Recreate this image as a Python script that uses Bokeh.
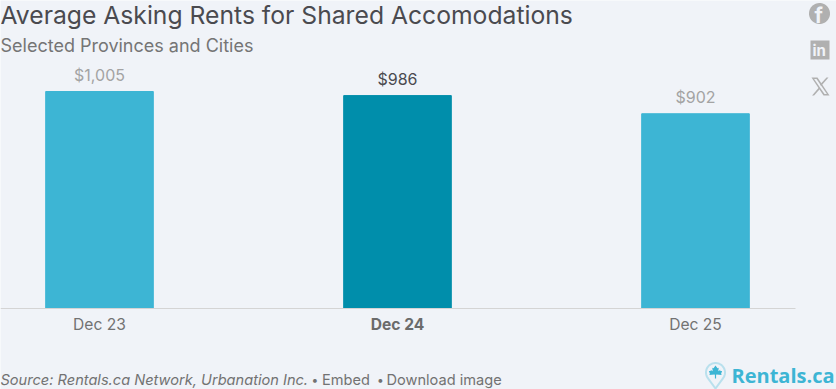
import numpy as np
from bokeh.plotting import figure
from bokeh.embed import file_html
from bokeh.resources import INLINE
from bokeh.models import Range1d, FixedTicker, Label, PolyAnnotation, ColumnDataSource
from bokeh.core.properties import value

months = ["Dec 23", "Dec 24", "Dec 25"]
rents = [1005, 986, 902]
rent_labels = ["$1,005", "$986", "$902"]
bar_colors = ["#3db5d4", "#008eab", "#3db5d4"]
label_colors = ["#a3a3a3", "#4a4a4f", "#a3a3a3"]
highlight = 1

BG = "#f0f3f8"
FONT = "Inter"
W, H = 836, 389
BASE = 308
PX_X = 298
PX_Y = 217 / 1005
xpos = list(range(len(months)))

p = figure(width=W, height=H, output_backend="svg", toolbar_location=None,
           x_range=Range1d(-99 / PX_X, (W - 99) / PX_X), y_range=Range1d((BASE - H) / PX_Y, BASE / PX_Y),
           min_border_left=0, min_border_right=0, min_border_top=0, min_border_bottom=0,
           background_fill_color=BG, border_fill_color=BG, outline_line_color=None)
p.grid.visible = False
p.yaxis.visible = False

src = ColumnDataSource(dict(x=xpos, top=rents, color=bar_colors, lab=rent_labels, lc=label_colors))
p.vbar(x="x", top="top", width=107.6 / PX_X, color="color", source=src)
p.text(x="x", y="top", text="lab", text_color="lc", source=src, y_offset=-7,
       text_align="center", text_baseline="bottom", text_font=value(FONT), text_font_size="16px")

ax = p.xaxis[0]
ax.fixed_location = 0
ax.bounds = (-99 / PX_X, (795 - 99) / PX_X)
ax.ticker = FixedTicker(ticks=xpos)
ax.major_label_overrides = {i: ("" if i == highlight else m) for i, m in enumerate(months)}
ax.major_tick_line_color = None
ax.minor_tick_line_color = None
ax.axis_line_color = "#d4d4d4"
ax.axis_line_width = 1
ax.major_label_text_font = FONT
ax.major_label_text_font_size = "15.6px"
ax.major_label_text_color = "#727272"
ax.major_label_standoff = 0

p.text(x=[highlight], y=[0], text=[months[highlight]], y_offset=16, text_align="center",
       text_baseline="middle", text_color="#6b6b6b", text_font=value(FONT), text_font_size="15.6px",
       text_font_style="bold", level="overlay")


def label(x, y, text, size, color, style="normal", font=FONT):
    p.add_layout(Label(x=x, y=y, x_units="canvas", y_units="canvas", text=text, text_font=font,
                       text_font_size=size, text_color=color, text_font_style=style, level="overlay",
                       text_baseline="middle", text_align="left"))


def poly(xs, ys, fill, line=None, lw=1):
    p.add_layout(PolyAnnotation(xs=list(xs), ys=list(ys), xs_units="canvas", ys_units="canvas", fill_color=fill,
                                fill_alpha=1, line_color=line, line_width=lw, level="overlay"))


label(0, 14, "Average Asking Rents for Shared Accomodations", "24.7px", "#4a4a4f")
label(0, 45, "Selected Provinces and Cities", "18px", "#757575")
label(0, 379, "Source: Rentals.ca Network, Urbanation Inc.", "14.6px", "#727272", "italic")
label(311, 379, "\u2022", "12px", "#727272")
label(321.5, 379, "Embed", "14.6px", "#727272")
label(376.5, 379, "\u2022", "12px", "#727272")
label(386, 379, "Download image", "14.6px", "#727272")

GREY = "#b0b0b0"
t = np.linspace(0, 2 * np.pi, 48)
poly(819 + 10.5 * np.cos(t), 13 + 10.5 * np.sin(t), GREY)
label(814, 15, "f", "21px", BG, "bold")
poly([810, 829, 829, 810], [40, 40, 59, 59], GREY)
label(812, 50, "in", "15px", BG, "bold")
# X logo: outlined thick diagonal and the thin opposite strokes
poly([811, 817, 829, 823], [77, 77, 95, 95], GREY)
poly([813.6, 816, 826.4, 824], [78.5, 78.5, 93.5, 93.5], BG)
poly([826, 828, 820.6, 819.6], [77, 77, 85.4, 84], GREY)
poly([811.6, 813.6, 819.4, 818.4], [95, 95, 88.4, 87], GREY)

TEAL = "#3db5d4"
a = np.linspace(np.radians(-40), np.radians(220), 40)
poly(list(715 + 9.5 * np.cos(a)) + [715], list(372 - 9.5 * np.sin(a)) + [388], BG, TEAL, 2)
leaf_x = [0, 2.0, 3.2, 2.8, 5.0, 4.6, 6.6, 5.6, 6.2, 1.0, 0.7, -0.7, -1.0, -6.2, -5.6, -6.6, -4.6, -5.0, -2.8, -3.2, -2.0]
leaf_y = [-7, -4.2, -4.8, -1.2, -2.8, -1.4, -1.6, 1.2, 2.4, 2.0, 2.2, 2.2, 2.0, 2.4, 1.2, -1.6, -1.4, -2.8, -1.2, -4.8, -4.2]
poly([715 + v for v in leaf_x], [372 + v for v in leaf_y], TEAL)
poly([714.4, 715.6, 715.6, 714.4], [373, 373, 378, 378], TEAL)
label(731, 375, "Rentals.ca", "20px", TEAL, "bold", "Open Sans")

open("out.html", "w").write(file_html(p, INLINE))
